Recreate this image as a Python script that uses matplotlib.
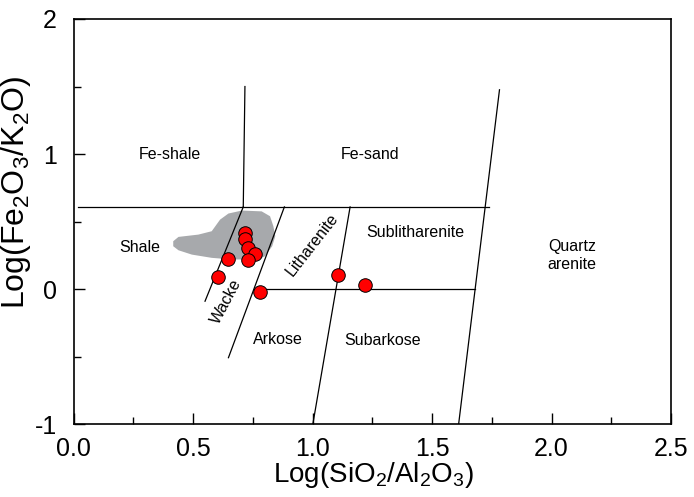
import matplotlib
matplotlib.use('Agg')
import matplotlib.pyplot as plt
from matplotlib.patches import Polygon
from matplotlib.ticker import MultipleLocator
from matplotlib import rcParams

rcParams['font.family'] = ['Liberation Sans', 'DejaVu Sans']
rcParams['mathtext.fontset'] = 'custom'
rcParams['mathtext.rm'] = 'Liberation Sans'
rcParams['mathtext.it'] = 'Liberation Sans'
rcParams['axes.unicode_minus'] = False

# sample points (log SiO2/Al2O3, log Fe2O3/K2O)
sample_x = [0.716, 0.716, 0.730, 0.758, 0.730, 0.647, 0.604, 0.779, 1.107, 1.221]
sample_y = [0.419, 0.375, 0.304, 0.260, 0.216, 0.223, 0.093, -0.018, 0.108, 0.029]

# grey field outline
field_x = [0.417, 0.439, 0.522, 0.578, 0.613, 0.648, 0.704, 0.787, 0.822, 0.836,
           0.844, 0.831, 0.801, 0.773, 0.662, 0.578, 0.495, 0.439, 0.417]
field_y = [0.355, 0.387, 0.404, 0.429, 0.515, 0.560, 0.582, 0.576, 0.540, 0.466,
           0.392, 0.318, 0.244, 0.220, 0.220, 0.232, 0.256, 0.288, 0.318]

# classification boundaries (x pairs, y pairs)
bounds = [
    ([0.02, 1.737], [0.609, 0.609]),      # Fe-rich upper limit
    ([0.710, 0.717], [0.609, 1.50]),      # Fe-shale / Fe-sand
    ([0.710, 0.550], [0.609, -0.089]),    # shale / wacke
    ([0.882, 0.648], [0.609, -0.507]),    # wacke / litharenite-arkose
    ([1.157, 1.001], [0.609, -1.0]),      # litharenite / sublitharenite
    ([1.782, 1.611], [1.476, -1.0]),      # quartz arenite
    ([0.754, 1.679], [0.0, 0.0]),         # lithic / arkosic
]

labels = [
    ('Fe-shale', 0.402, 1.0, 0),
    ('Fe-sand', 1.239, 1.0, 0),
    ('Shale', 0.276, 0.31, 0),
    ('Sublitharenite', 1.428, 0.42, 0),
    ('Quartz\narenite', 2.085, 0.25, 0),
    ('Arkose', 0.854, -0.37, 0),
    ('Subarkose', 1.293, -0.38, 0),
    ('Litharenite', 1.0, 0.33, 52),
    ('Wacke', 0.640, -0.09, 62),
]

fig = plt.figure(figsize=(6.94, 4.97), dpi=100)
ax = fig.add_axes([0.106, 0.1463, 0.861, 0.8155])

ax.add_patch(Polygon(list(zip(field_x, field_y)), closed=True,
                     facecolor='#a7a9ac', edgecolor='none', zorder=1))

for bx, by in bounds:
    ax.plot(bx, by, color='black', lw=0.9, zorder=2)

for txt, tx, ty, rot in labels:
    ax.text(tx, ty, txt, fontsize=11.5, ha='center', va='center',
            rotation=rot, multialignment='center', zorder=3)

ax.scatter(sample_x, sample_y, s=95, facecolor='#ff0000', edgecolor='black',
           linewidth=0.7, zorder=4)

ax.set_xlim(0, 2.5)
ax.set_ylim(-1, 2)
ax.xaxis.set_major_locator(MultipleLocator(0.5))
ax.xaxis.set_minor_locator(MultipleLocator(0.25))
ax.yaxis.set_major_locator(MultipleLocator(1))
ax.yaxis.set_minor_locator(MultipleLocator(0.5))
ax.xaxis.set_major_formatter(plt.FormatStrFormatter('%.1f'))
ax.tick_params(which='both', direction='in', width=1, labelsize=18)
ax.tick_params(which='major', length=8)
ax.tick_params(which='minor', length=5)
ax.tick_params(axis='x', pad=9)
ax.tick_params(axis='y', pad=12)
for s in ax.spines.values():
    s.set_linewidth(1.2)

ax.set_xlabel(r'Log(SiO$\mathregular{_2}$/Al$\mathregular{_2}$O$\mathregular{_3}$)',
              fontsize=20)
ax.set_ylabel(r'Log(Fe$\mathregular{_2}$O$\mathregular{_3}$/K$\mathregular{_2}$O)',
              fontsize=23)
ax.xaxis.set_label_coords(0.502, -0.087)
ax.yaxis.set_label_coords(-0.068, 0.571)

fig.savefig('out.png', dpi=100)
